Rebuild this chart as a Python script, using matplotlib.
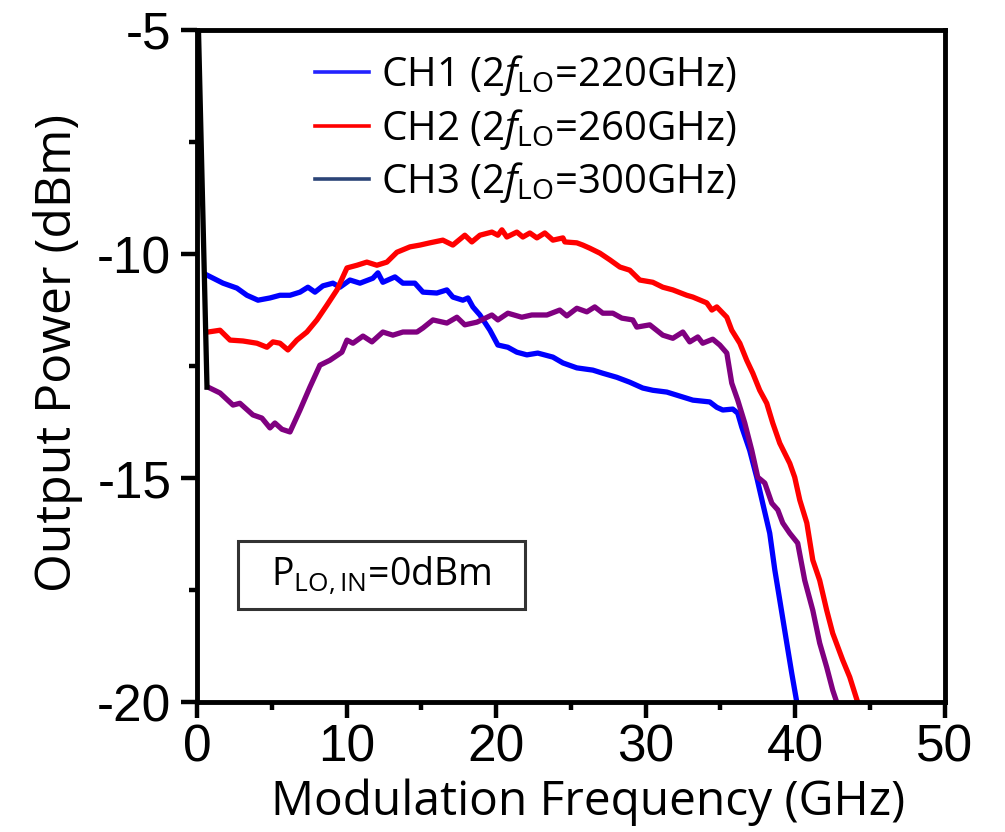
import matplotlib
matplotlib.use("Agg")
import matplotlib.pyplot as plt
from matplotlib.lines import Line2D
from matplotlib.patches import Rectangle
from matplotlib.ticker import MultipleLocator

plt.rcParams["mathtext.fontset"] = "custom"
plt.rcParams["mathtext.rm"] = "Open Sans"
plt.rcParams["mathtext.it"] = "Open Sans:italic"
plt.rcParams["mathtext.bf"] = "Open Sans:bold"

# ---- measured output power vs modulation frequency ----
ch1_freq = [0.67, 1.74, 2.67, 3.34, 4.08, 4.88, 5.55, 6.22, 6.89, 7.42, 7.89, 8.42,
            9.09, 9.56, 10.23, 10.90, 11.76, 12.10, 12.43, 13.24, 13.77, 14.57, 15.11,
            16.04, 16.71, 17.11, 17.78, 18.12, 18.45, 18.92, 19.59, 20.12, 20.79, 21.39,
            22.06, 22.79, 23.80, 24.47, 25.40, 26.47, 27.14, 28.07, 28.94, 29.81, 30.48,
            31.42, 32.29, 33.16, 34.29, 34.76, 35.16, 35.83, 36.16, 36.43, 36.96, 37.43,
            37.83, 38.30, 38.64, 38.97, 39.44, 39.77, 40.11]
ch1_power = [-10.47, -10.65, -10.76, -10.92, -11.03, -10.98, -10.92, -10.92, -10.85,
             -10.74, -10.85, -10.71, -10.65, -10.74, -10.58, -10.65, -10.54, -10.42,
             -10.63, -10.51, -10.65, -10.65, -10.85, -10.87, -10.80, -10.96, -11.03,
             -10.98, -11.18, -11.36, -11.70, -12.03, -12.08, -12.19, -12.25, -12.21,
             -12.30, -12.43, -12.54, -12.59, -12.66, -12.75, -12.86, -12.99, -13.04,
             -13.08, -13.17, -13.26, -13.30, -13.42, -13.48, -13.46, -13.55, -13.86,
             -14.38, -14.98, -15.56, -16.23, -17.05, -17.72, -18.68, -19.35, -20.0]

ch2_freq = [0.74, 1.54, 2.21, 3.07, 4.01, 4.68, 5.08, 5.55, 6.08, 6.68, 7.35, 8.02,
            8.69, 9.36, 10.03, 10.70, 11.36, 12.03, 12.70, 13.37, 14.24, 14.91, 15.57,
            16.44, 17.11, 17.91, 18.38, 18.92, 19.72, 20.12, 20.39, 20.72, 21.39, 21.79,
            22.26, 22.73, 23.26, 23.80, 24.47, 24.60, 25.40, 25.80, 26.27, 26.94, 27.61,
            28.28, 28.94, 29.61, 30.48, 31.15, 31.82, 32.75, 33.16, 34.09, 34.43, 34.76,
            35.43, 35.76, 36.30, 36.76, 37.17, 37.63, 38.10, 38.50, 38.97, 39.64, 39.97,
            40.31, 40.78, 41.18, 41.64, 42.11, 42.51, 43.18, 43.65, 44.18]
ch2_power = [-11.74, -11.70, -11.92, -11.94, -11.99, -12.08, -11.96, -11.99, -12.14,
             -11.92, -11.74, -11.47, -11.14, -10.80, -10.31, -10.25, -10.18, -10.25,
             -10.18, -9.96, -9.84, -9.80, -9.75, -9.69, -9.80, -9.58, -9.73, -9.58,
             -9.51, -9.58, -9.46, -9.62, -9.51, -9.62, -9.53, -9.64, -9.53, -9.69,
             -9.64, -9.73, -9.75, -9.80, -9.87, -9.98, -10.13, -10.29, -10.36, -10.58,
             -10.63, -10.74, -10.80, -10.92, -10.96, -11.09, -11.25, -11.18, -11.41,
             -11.70, -11.99, -12.37, -12.66, -13.04, -13.33, -13.77, -14.22, -14.67,
             -14.98, -15.49, -16.00, -16.83, -17.28, -17.95, -18.46, -19.06, -19.44,
             -20.0]

ch3_freq = [0.74, 1.54, 2.41, 2.87, 3.74, 4.34, 4.88, 5.21, 5.68, 6.22, 6.89, 7.55,
            8.22, 8.89, 9.69, 10.03, 10.43, 11.10, 11.70, 12.43, 13.10, 13.77, 14.71,
            15.11, 15.78, 16.71, 17.38, 17.91, 18.72, 19.72, 20.12, 20.79, 21.72, 22.39,
            23.40, 24.26, 24.73, 25.40, 26.07, 26.60, 27.14, 27.81, 28.41, 29.14, 29.41,
            30.28, 31.15, 31.82, 32.49, 32.95, 33.49, 33.82, 34.49, 34.96, 35.43, 35.76,
            36.16, 36.63, 37.10, 37.50, 37.97, 38.44, 38.84, 39.17, 39.64, 40.17, 40.64,
            41.18, 41.64, 42.11, 42.51, 42.78]
ch3_power = [-12.97, -13.10, -13.37, -13.33, -13.59, -13.66, -13.88, -13.77, -13.91,
             -13.97, -13.48, -12.97, -12.48, -12.37, -12.19, -11.92, -11.99, -11.83,
             -11.96, -11.74, -11.81, -11.74, -11.74, -11.65, -11.47, -11.54, -11.41,
             -11.58, -11.52, -11.36, -11.47, -11.32, -11.41, -11.36, -11.36, -11.25,
             -11.38, -11.21, -11.29, -11.18, -11.32, -11.32, -11.43, -11.47, -11.63,
             -11.58, -11.81, -11.88, -11.74, -11.96, -11.85, -11.99, -11.90, -12.03,
             -12.21, -12.88, -13.26, -13.77, -14.38, -14.98, -15.11, -15.56, -15.71,
             -16.00, -16.23, -16.45, -17.28, -17.95, -18.68, -19.22, -19.73, -20.0]

# settling transient at the start of the CH3 sweep
start_freq = [0.10, 0.67]
start_power = [-5.0, -12.97]

legend_labels = [r"CH1 (2$f_{\mathrm{LO}}$=220GHz)",
                 r"CH2 (2$f_{\mathrm{LO}}$=260GHz)",
                 r"CH3 (2$f_{\mathrm{LO}}$=300GHz)"]
x_ticks = [0, 10, 20, 30, 40, 50]
y_ticks = [-20, -15, -10, -5]

fig = plt.figure(figsize=(10.05, 8.32), dpi=100)
ax = fig.add_axes([0.196, 0.156, 0.744, 0.808])

lw = 3.8
ax.plot(ch1_freq, ch1_power, color="#0000ff", lw=lw, solid_joinstyle="round")
ax.plot(ch2_freq, ch2_power, color="#ff0000", lw=lw, solid_joinstyle="round")
ax.plot(ch3_freq, ch3_power, color="#800080", lw=lw, solid_joinstyle="round")
ax.plot(start_freq, start_power, color="black", lw=lw)

ax.set_xlim(0, 50)
ax.set_ylim(-20, -5)
ax.set_xticks(x_ticks)
ax.set_yticks(y_ticks)
ax.xaxis.set_minor_locator(MultipleLocator(5))
ax.yaxis.set_minor_locator(MultipleLocator(2.5))

tick_font = dict(family="Liberation Sans", size=37)
ax.set_xticklabels([str(v) for v in x_ticks], **tick_font)
ax.set_yticklabels([str(v) for v in y_ticks], **tick_font)
ax.tick_params(which="major", direction="out", length=11.5, width=3.2, pad=4)
ax.tick_params(which="minor", direction="out", length=6, width=3.2)
ax.tick_params(axis="y", which="major", pad=7)

for sp in ax.spines.values():
    sp.set_linewidth(3.5)

ax.set_xlabel("Modulation Frequency (GHz)", family="Open Sans", size=34.5, labelpad=4)
ax.set_ylabel("Output Power (dBm)", family="Open Sans", size=36, labelpad=10)
ax.xaxis.label.set_x(0.523)
ax.yaxis.label.set_y(0.519)

handles = [Line2D([], [], color="#2323ff", lw=2.6),
           Line2D([], [], color="#ff0000", lw=2.6),
           Line2D([], [], color="#2b4477", lw=2.6)]
leg = ax.legend(handles, legend_labels, loc="upper left",
                bbox_to_anchor=(0.12, 1.008), frameon=False,
                prop={"family": "Open Sans", "size": 29},
                handlelength=1.35, handletextpad=0.3, labelspacing=0.22,
                borderaxespad=0.3)

ax.add_patch(Rectangle((0.0548, 0.1384), 0.3837, 0.1012, transform=ax.transAxes,
                       fill=False, edgecolor="#333333", lw=2.2, zorder=5))
ax.text(0.2467, 0.189, r"P$_{\mathrm{LO,IN}}$=0dBm", transform=ax.transAxes,
        ha="center", va="center", family="Open Sans", size=27)

fig.savefig("out.png", dpi=100)
